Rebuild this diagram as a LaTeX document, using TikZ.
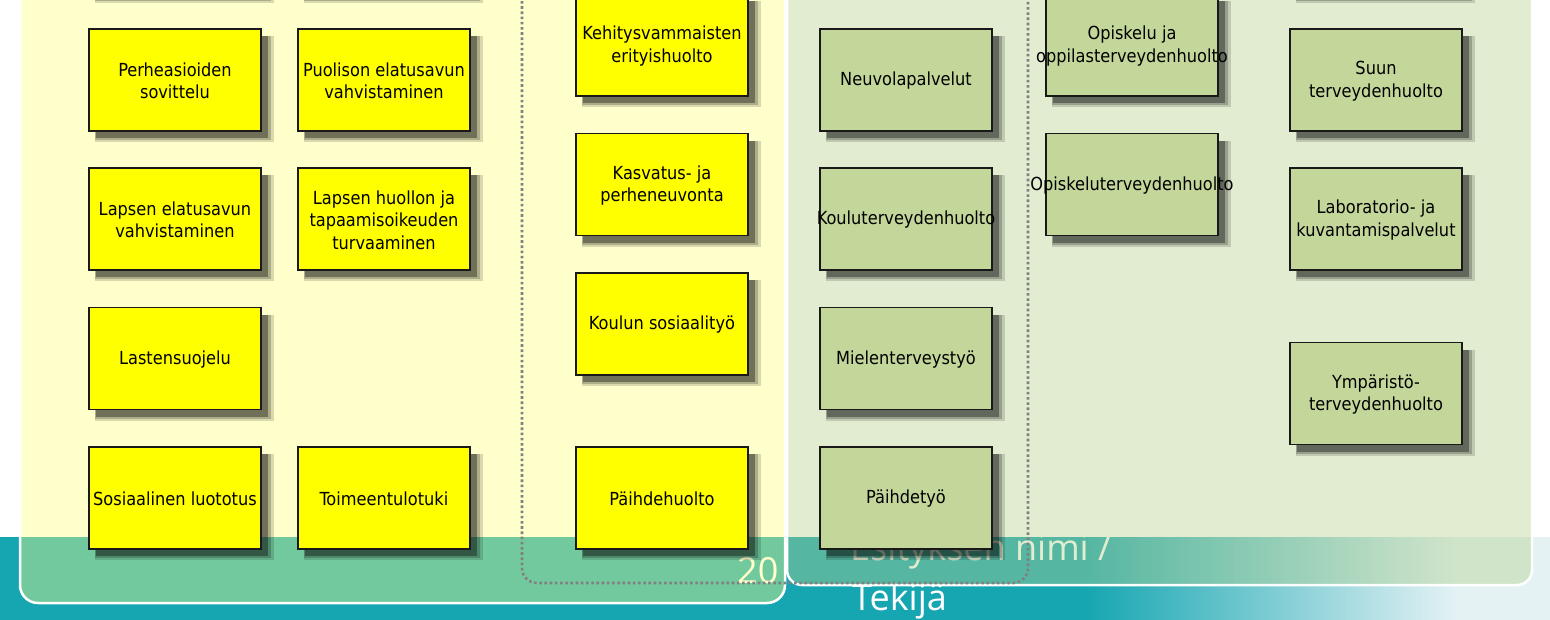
\documentclass[tikz,border=0pt]{standalone}
\usepackage{fontspec}
\setmainfont{DejaVu Sans Condensed}
\newfontfamily\footfont{Open Sans}
\usetikzlibrary{shadows}
\definecolor{boxyellow}{RGB}{255,255,0}
\definecolor{boxgreen}{RGB}{196,215,155}
\definecolor{panelyellow}{RGB}{255,255,128}
\definecolor{panelgreen}{RGB}{180,208,140}
\definecolor{bandteal}{RGB}{22,166,178}
\definecolor{bandlight}{RGB}{228,242,244}
\definecolor{dotgray}{RGB}{128,128,128}
\pgfdeclarehorizontalshading{bandshade}{100bp}{color(0bp)=(bandteal); color(60bp)=(bandteal); color(72bp)=(bandlight); color(100bp)=(bandlight)}
\begin{document}
\begin{tikzpicture}[x=1pt,y=-1pt,
  box/.style={draw=black!90, line width=1.8pt, minimum width=172pt, minimum height=102pt, inner sep=0pt,
    general shadow={fill=black, opacity=0.15, shadow xshift=9pt, shadow yshift=-9pt, shadow scale=1.04},
    general shadow={fill=black, opacity=0.2, shadow xshift=8pt, shadow yshift=-8pt, shadow scale=1.02},
    general shadow={fill=black, opacity=0.35, shadow xshift=7pt, shadow yshift=-7pt}},
  ybox/.style={box, fill=boxyellow},
  gbox/.style={box, fill=boxgreen},
  txt/.style={font=\fontsize{18}{22.5}\selectfont, align=center, text=black, inner sep=0pt, yshift=-1pt},
  foot/.style={font=\footfont\fontsize{36}{40}\selectfont, text=white, inner sep=0pt, anchor=base west},
  panel/.style={draw=white, line width=2.5pt, fill opacity=0.4},
  dotbox/.style={draw=dotgray, line width=2.6pt, dash pattern=on 2.6pt off 2.6pt, rounded corners=15pt}
]
\useasboundingbox (0,0) rectangle (1550,619);
% background
\fill[white] (0,0) rectangle (1550,619);
\shade[shading=bandshade] (0,537) rectangle (1550,619);
% footer texts (behind the panels)
\node[foot] (num) at (737,583) {20};
\node[foot] (title) at (850,560) {Esityksen nimi /};
\node[foot] (author) at (852,610) {Tekijä};
% panels
\path[panel, fill=panelyellow, rounded corners=18pt] (20,-40) rectangle (785,603);
\path[panel, fill=panelgreen, rounded corners=15pt] (787,-40) rectangle (1532,585);
\draw[dotbox] (522,-40) rectangle (1028,583);
% column 1
\node[ybox] (c1t) at (175,-59) {};
\node[ybox, label={[txt]center:{Perheasioiden\\sovittelu}}] (c1a) at (175,80) {};
\node[ybox, label={[txt]center:{Lapsen elatusavun\\vahvistaminen}}] (c1b) at (175,219) {};
\node[ybox, label={[txt]center:{Lastensuojelu}}] (c1c) at (175,358.5) {};
\node[ybox, label={[txt]center:{Sosiaalinen luototus}}] (c1d) at (175,498) {};
% column 2
\node[ybox] (c2t) at (384,-59) {};
\node[ybox, label={[txt]center:{Puolison elatusavun\\vahvistaminen}}] (c2a) at (384,80) {};
\node[ybox, label={[txt]center:{Lapsen huollon ja\\tapaamisoikeuden\\turvaaminen}}] (c2b) at (384,219) {};
\node[ybox, label={[txt]center:{Toimeentulotuki}}] (c2d) at (384,498) {};
% column 3
\node[ybox, label={[txt]center:{Kehitysvammaisten\\erityishuolto}}] (c3a) at (662,45) {};
\node[ybox, label={[txt]center:{Kasvatus- ja\\perheneuvonta}}] (c3b) at (662,184.5) {};
\node[ybox, label={[txt]center:{Koulun sosiaalityö}}] (c3c) at (662,324) {};
\node[ybox, label={[txt]center:{Päihdehuolto}}] (c3d) at (662,498) {};
% column 4
\node[gbox, label={[txt]center:{Neuvolapalvelut}}] (c4a) at (906,80) {};
\node[gbox, label={[txt]center:{Kouluterveydenhuolto}}] (c4b) at (906,219) {};
\node[gbox, label={[txt]center:{Mielenterveystyö}}] (c4c) at (906,358.5) {};
\node[gbox, label={[txt]center:{Päihdetyö}}] (c4d) at (906,498) {};
% column 5
\node[gbox, label={[txt]center:{Opiskelu ja\\oppilasterveydenhuolto}}] (c5a) at (1132,45) {};
\node[gbox, label={[txt]center:{Opiskeluterveydenhuolto}}] (c5b) at (1132,184.5) {};
% column 6
\node[gbox] (c6t) at (1376,-59) {};
\node[gbox, label={[txt]center:{Suun\\terveydenhuolto}}] (c6a) at (1376,80) {};
\node[gbox, label={[txt]center:{Laboratorio- ja\\kuvantamispalvelut}}] (c6b) at (1376,219) {};
\node[gbox, label={[txt]center:{Ympäristö-\\terveydenhuolto}}] (c6c) at (1376,393.5) {};
\end{tikzpicture}
\end{document}
